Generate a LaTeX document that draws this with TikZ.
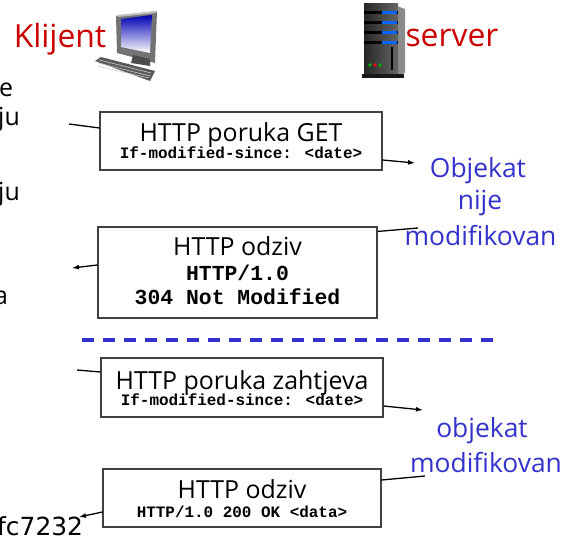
\documentclass[tikz,border=0pt]{standalone}
\usepackage{fontspec}
\setmainfont{Open Sans}
\newfontfamily\monof{Liberation Mono}
\newfontfamily\vfont{DejaVu Sans}
\usetikzlibrary{arrows.meta}
\definecolor{kred}{HTML}{CC0000}
\definecolor{kblue}{HTML}{3333CC}
\begin{document}
\begin{tikzpicture}[x=1bp,y=-1bp,
  msgbox/.style={draw=black!75,line width=1.1bp,rectangle,inner sep=0pt},
  conn/.style={line width=1.3bp,black},
  arr/.style={conn,-{Latex[length=7bp,width=5bp]}},
  txt/.style={anchor=base,inner sep=0pt},
  titlet/.style={txt,font=\fontsize{25}{28}\selectfont},
  monos/.style={txt,font=\monof\bfseries\fontsize{16}{18}\selectfont},
  monol/.style={txt,font=\monof\bfseries\fontsize{21.5}{24}\selectfont},
  bluet/.style={txt,text=kblue,font=\fontsize{26.5}{30}\selectfont},
  redt/.style={txt,text=kred,font=\fontsize{32}{36}\selectfont},
  frag/.style={font=\fontsize{25}{28}\selectfont,anchor=base west,inner sep=0pt}]
\useasboundingbox (0,0) rectangle (563,539);
\clip (0,0) rectangle (563,539);
% headers
\node[redt] (kl) at (60,48) {Klijent};
\node[redt] (sv) at (452,47) {server};
% computer icon
\fill[black!55] (116,16) -- (157,11) -- (155,63) -- (117,53) -- cycle;
\fill[black!25] (117,15) -- (157,11) -- (156,13) -- (118,17) -- cycle;
\shade[top color=blue!70!black,bottom color=white] (121,19) -- (152,15) -- (150,53) -- (121,47) -- cycle;
\fill[black!70] (133,55) -- (150,59) -- (150,66) -- (131,63) -- cycle;
\fill[black!65] (95,61) -- (101,57) -- (155,71) -- (150,81) -- cycle;
\draw[black!20,line width=0.6bp] (99,60) -- (151,73) (98,63) -- (150,76) (97,66) -- (149,78);
% server icon
\fill[black!45] (397,6) -- (405,9) -- (405,73) -- (397,76) -- cycle;
\shade[left color=black!85,right color=black!60] (364,4) rectangle (398,76);
\fill[black!90] (362,74) rectangle (404,78);
\foreach \yy in {13,23,33,43}{
  \fill[black] (364,\yy-1.5) rectangle (398,\yy+1.5);
  \fill[blue!60!cyan] (382,\yy-1.5) rectangle (397,\yy+1.5);
}
\fill[black] (391,47) rectangle (393,70);
\fill[green!70!black] (370,65) circle (1.8);
\fill[red] (375,65) circle (1.8);
\fill[green!70!black] (380,65) circle (1.8);
% left cut-off fragments
\node[frag] (f1) at (-1,97) {e};
\node[frag] (f2) at (-2,126) {ju};
\node[frag] (f3) at (-2,201) {ju};
\node[frag] (f4) at (-6,304) {a};
\node[font=\vfont\fontsize{25}{28}\selectfont,anchor=base west,inner sep=0pt] (f5) at (-3,535) {fc7232};
% boxes
\node[msgbox,minimum width=282bp,minimum height=58bp] (b1) at (241,141) {};
\node[msgbox,minimum width=279bp,minimum height=91bp] (b2) at (237.5,272.5) {};
\node[msgbox,minimum width=282bp,minimum height=59bp] (b3) at (242,387.5) {};
\node[msgbox,minimum width=278bp,minimum height=58bp] (b4) at (242,498) {};
% box texts
\node[titlet] (t1) at (241,141.5) {HTTP poruka GET};
\node[monos] (m1) at (241,158.5) {If-modified-since: <date>};
\node[titlet] (t2) at (237.5,255) {HTTP odziv};
\node[monol] (m2a) at (237.5,280) {HTTP/1.0};
\node[monol] (m2b) at (237.5,304) {304 Not Modified};
\node[titlet] (t3) at (242,389.5) {HTTP poruka zahtjeva};
\node[monos] (m3) at (242,405.5) {If-modified-since: <date>};
\node[titlet] (t4) at (242,498) {HTTP odziv};
\node[monos] (m4) at (242,517) {HTTP/1.0 200 OK <data>};
% blue notes
\node[bluet] (n1a) at (478,178) {Objekat};
\node[bluet] (n1b) at (480,210) {nije};
\node[bluet] (n1c) at (480.5,245) {modifikovan};
\node[bluet] (n2a) at (482,437) {objekat};
\node[bluet] (n2b) at (486,472) {modifikovan};
% dashed separator
\coordinate (d1) at (82,340);
\coordinate (d2) at (494,340);
\draw[kblue,line width=4bp,dash pattern=on 12bp off 9bp] (d1) -- (d2);
% connectors
\coordinate (c1) at (69,124);
\coordinate (c2) at (415,163);
\coordinate (c3) at (418,228);
\coordinate (c4) at (72,268);
\coordinate (c5) at (77,370);
\coordinate (c6) at (423,410);
\coordinate (c7) at (425,476);
\coordinate (c8) at (79,517);
\draw[conn] (c1) -- ([yshift=13bp]b1.west);
\draw[arr] ([yshift=-19bp]b1.east) -- (c2);
\draw[conn] ([yshift=-5bp]b2.north east) -- (c3);
\draw[arr] ([yshift=7.5bp]b2.west) -- (c4);
\draw[conn] (c5) -- ([yshift=15.5bp]b3.west);
\draw[arr] ([yshift=-18.5bp]b3.east) -- (c6);
\draw[conn] ([yshift=18bp]b4.east) -- (c7);
\draw[arr] ([yshift=-14bp]b4.west) -- (c8);
\end{tikzpicture}
\end{document}
